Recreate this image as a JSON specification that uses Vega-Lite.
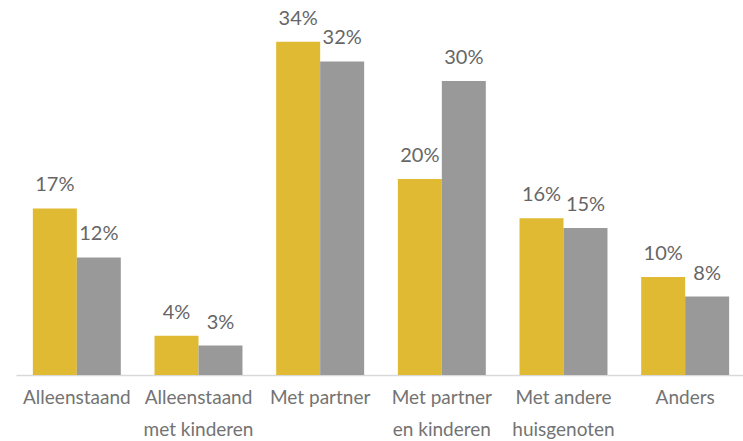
{
  "$schema": "https://vega.github.io/schema/vega-lite/v6.json",
  "width": 730,
  "height": 375,
  "autosize": {"type": "none"},
  "padding": {"left": 16, "top": 0, "right": 0, "bottom": 66},
  "config": {"view": {"stroke": null}, "font": "Lato"},
  "data": {
    "values": [
      {"categorie": "Alleenstaand", "reeks": "Reeks 1", "waarde": 0.17},
      {"categorie": "Alleenstaand", "reeks": "Reeks 2", "waarde": 0.12},
      {"categorie": "Alleenstaand met kinderen", "reeks": "Reeks 1", "waarde": 0.04},
      {"categorie": "Alleenstaand met kinderen", "reeks": "Reeks 2", "waarde": 0.03},
      {"categorie": "Met partner", "reeks": "Reeks 1", "waarde": 0.34},
      {"categorie": "Met partner", "reeks": "Reeks 2", "waarde": 0.32},
      {"categorie": "Met partner en kinderen", "reeks": "Reeks 1", "waarde": 0.20},
      {"categorie": "Met partner en kinderen", "reeks": "Reeks 2", "waarde": 0.30},
      {"categorie": "Met andere huisgenoten", "reeks": "Reeks 1", "waarde": 0.16},
      {"categorie": "Met andere huisgenoten", "reeks": "Reeks 2", "waarde": 0.15},
      {"categorie": "Anders", "reeks": "Reeks 1", "waarde": 0.10},
      {"categorie": "Anders", "reeks": "Reeks 2", "waarde": 0.08}
    ]
  },
  "encoding": {
    "x": {
      "field": "categorie",
      "type": "nominal",
      "sort": null,
      "scale": {"paddingInner": 0.277, "paddingOuter": 0.1385},
      "axis": {
        "title": null,
        "labelAngle": 0,
        "ticks": false,
        "grid": false,
        "domainColor": "#D9D9D9",
        "domainWidth": 1.5,
        "labelFontSize": 19,
        "labelColor": "#737373",
        "labelPadding": 28,
        "labelBaseline": "alphabetic",
        "labelLineHeight": 32,
        "labelLimit": 0,
        "labelExpr": "datum.label == 'Alleenstaand met kinderen' ? ['Alleenstaand', 'met kinderen'] : datum.label == 'Met partner en kinderen' ? ['Met partner', 'en kinderen'] : datum.label == 'Met andere huisgenoten' ? ['Met andere', 'huisgenoten'] : datum.label"
      }
    },
    "xOffset": {"field": "reeks", "type": "nominal", "sort": null},
    "y": {
      "field": "waarde",
      "type": "quantitative",
      "scale": {"domain": [0, 0.3827]},
      "axis": null
    }
  },
  "layer": [
    {
      "mark": {"type": "bar"},
      "encoding": {
        "color": {
          "field": "reeks",
          "type": "nominal",
          "scale": {"range": ["#E0BA32", "#999999"]},
          "legend": null
        }
      }
    },
    {
      "mark": {"type": "text", "baseline": "alphabetic", "dy": -17, "fontSize": 20},
      "encoding": {
        "text": {"field": "waarde", "type": "quantitative", "format": ".0%"},
        "color": {"value": "#666666"}
      }
    }
  ]
}
